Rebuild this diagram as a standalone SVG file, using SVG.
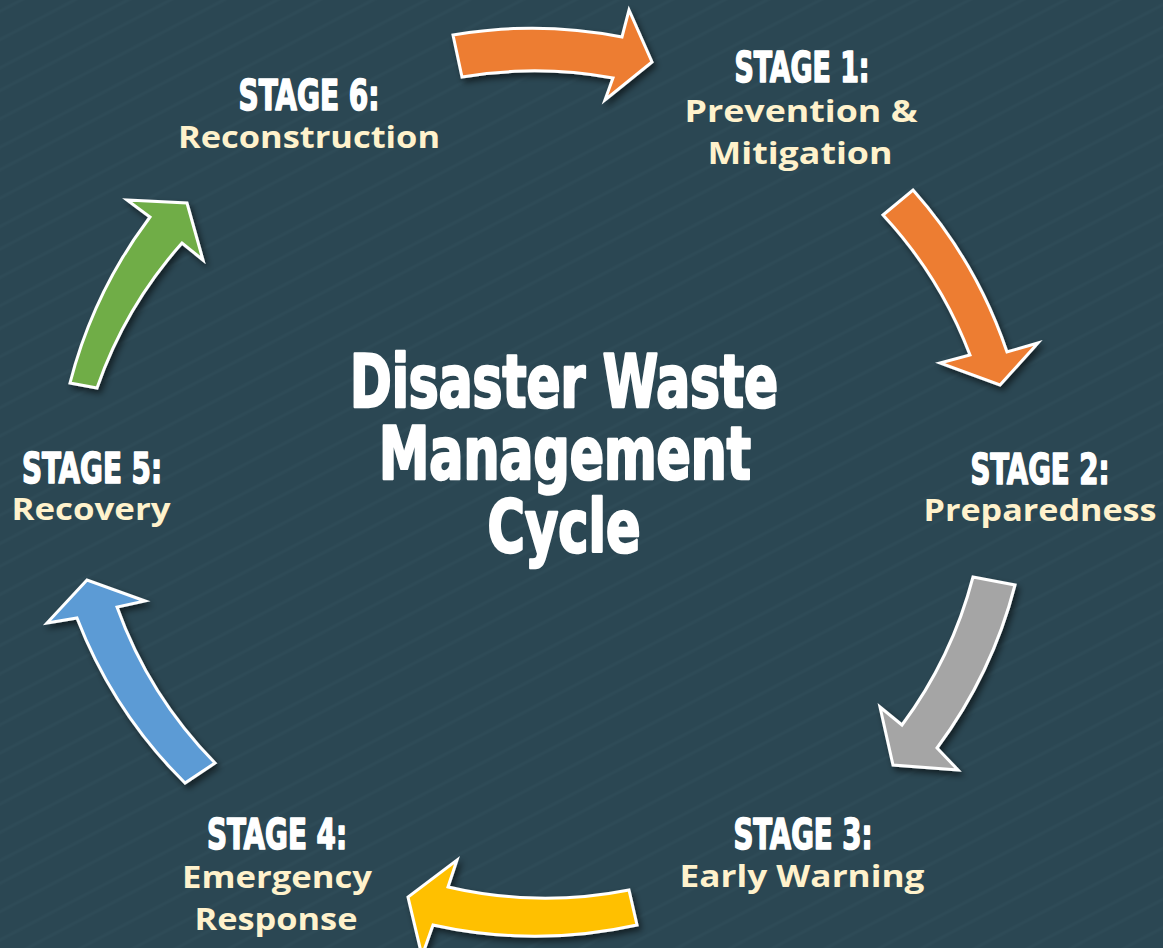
<svg xmlns="http://www.w3.org/2000/svg" width="1163" height="948" viewBox="0 0 1163 948">
<style>
.stage{font-family:"DejaVu Sans Condensed","DejaVu Sans","Liberation Sans Narrow",sans-serif;font-weight:bold;font-stretch:condensed;font-size:42px;fill:#ffffff;stroke:#ffffff;stroke-width:1.6;stroke-linejoin:round;text-anchor:middle}
.sub{font-family:"Open Sans","Noto Sans","Liberation Sans",sans-serif;font-weight:bold;font-size:31px;fill:#fff2cc;text-anchor:middle}
.title{font-family:"DejaVu Sans Condensed","DejaVu Sans",sans-serif;font-weight:bold;font-stretch:condensed;font-size:73px;fill:#ffffff;stroke:#ffffff;stroke-width:2.6;stroke-linejoin:round;text-anchor:middle}
.arrow{stroke:#ffffff;stroke-width:3;stroke-linejoin:miter;filter:url(#sh)}
</style>
<defs>
<filter id="sh" x="-20%" y="-20%" width="150%" height="150%">
<feDropShadow dx="3" dy="4" stdDeviation="3" flood-color="#000000" flood-opacity="0.55"/>
</filter>
<pattern id="bgp" width="120" height="70" patternUnits="userSpaceOnUse" patternTransform="rotate(-28)">
<path d="M0,10 H120 M0,35 H120 M0,60 H120" stroke="#36535f" stroke-width="3" fill="none" opacity="0.5"/>
</pattern>
</defs>
<rect width="1163" height="948" fill="#2b4753"/>
<rect width="1163" height="948" fill="url(#bgp)" opacity="0.6"/>
<g id="connectors">
<path class="arrow" fill="#ed7d31" d="M453,35 A470,470 0 0 1 622,37 L629,10 L652,62 L605,100 L613,78 A430,430 0 0 0 462,77 Z"/>
<path class="arrow" fill="#ed7d31" d="M883,215 L913,190 A470,470 0 0 1 1007,352 L1038,343 L1000,385 L940,363 L970,355 A430,430 0 0 0 883,215 Z"/>
<path class="arrow" fill="#a5a5a5" d="M973,577 L1015,585 A470,470 0 0 1 937,748 L958,770 L893,765 L880,707 L902,725 A430,430 0 0 0 973,577 Z"/>
<path class="arrow" fill="#ffc000" d="M629,890 L637,925 A470,470 0 0 1 433,925 L422,956 L408,897 L457,860 L448,887 A430,430 0 0 0 629,890 Z"/>
<path class="arrow" fill="#5b9bd5" d="M215,763 L185,783 A470,470 0 0 1 77,618 L47,623 L87,580 L145,601 L117,607 A430,430 0 0 0 215,763 Z"/>
<path class="arrow" fill="#70ad47" d="M97,388 L70,383 A470,470 0 0 1 150,217 L127,200 L187,203 L203,260 L182,243 A430,430 0 0 0 97,388 Z"/>
</g>
<g id="title">
<text class="title" x="564" y="407" textLength="428" lengthAdjust="spacingAndGlyphs">Disaster Waste</text>
<text class="title" x="565" y="479" textLength="372" lengthAdjust="spacingAndGlyphs">Management</text>
<text class="title" x="564" y="552" textLength="153" lengthAdjust="spacingAndGlyphs">Cycle</text>
</g>
<g id="stage1">
<text class="stage" x="802" y="82" textLength="135" lengthAdjust="spacingAndGlyphs">STAGE 1:</text>
<text class="sub" x="801" y="122" textLength="233" lengthAdjust="spacingAndGlyphs">Prevention &amp;</text>
<text class="sub" x="800" y="164" textLength="185" lengthAdjust="spacingAndGlyphs">Mitigation</text>
</g>
<g id="stage2">
<text class="stage" x="1040" y="484" textLength="139" lengthAdjust="spacingAndGlyphs">STAGE 2:</text>
<text class="sub" x="1040" y="521" textLength="233" lengthAdjust="spacingAndGlyphs">Preparedness</text>
</g>
<g id="stage3">
<text class="stage" x="803" y="849" textLength="139" lengthAdjust="spacingAndGlyphs">STAGE 3:</text>
<text class="sub" x="802" y="887" textLength="245" lengthAdjust="spacingAndGlyphs">Early Warning</text>
</g>
<g id="stage4">
<text class="stage" x="277" y="849" textLength="140" lengthAdjust="spacingAndGlyphs">STAGE 4:</text>
<text class="sub" x="277" y="888" textLength="190" lengthAdjust="spacingAndGlyphs">Emergency</text>
<text class="sub" x="276" y="930" textLength="163" lengthAdjust="spacingAndGlyphs">Response</text>
</g>
<g id="stage5">
<text class="stage" x="92" y="483" textLength="140" lengthAdjust="spacingAndGlyphs">STAGE 5:</text>
<text class="sub" x="91" y="520" textLength="159" lengthAdjust="spacingAndGlyphs">Recovery</text>
</g>
<g id="stage6">
<text class="stage" x="309" y="110" textLength="141" lengthAdjust="spacingAndGlyphs">STAGE 6:</text>
<text class="sub" x="309" y="148" textLength="262" lengthAdjust="spacingAndGlyphs">Reconstruction</text>
</g>
</svg>
